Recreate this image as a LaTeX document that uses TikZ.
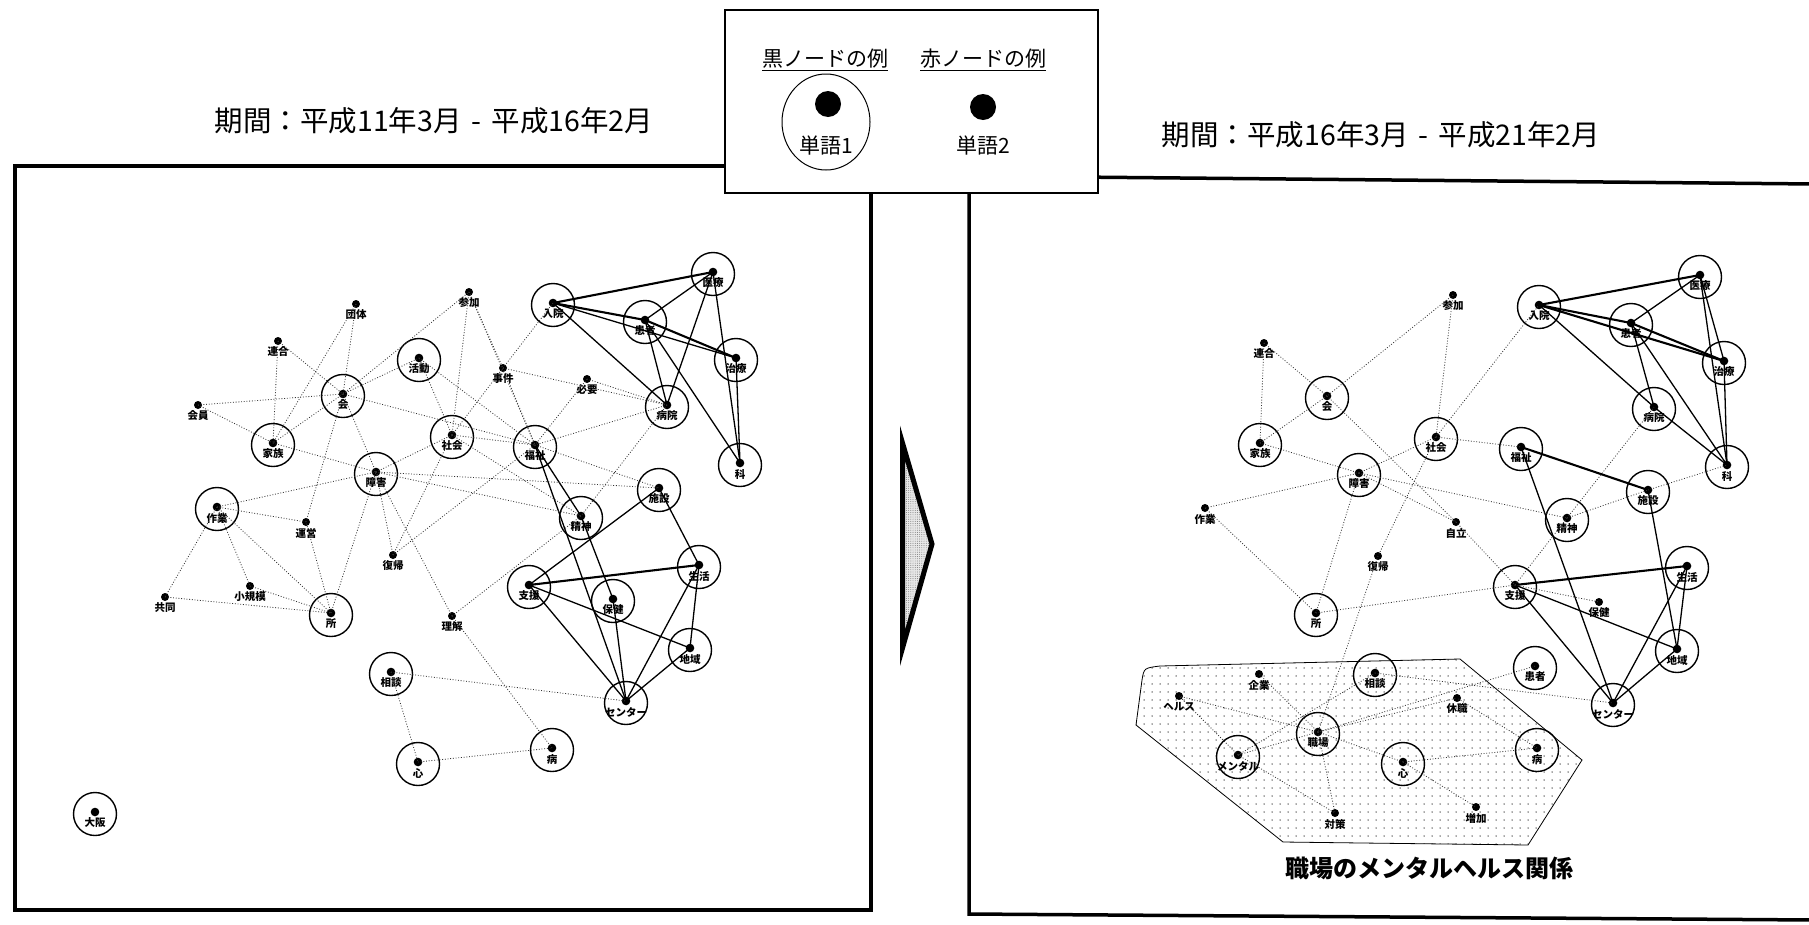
\documentclass[tikz,border=0pt]{standalone}
\usepackage{fontspec}
\newfontfamily\cjk{Noto Sans CJK JP}
\usetikzlibrary{patterns.meta,shapes.geometric}
\newcommand\BN[4]{%
  \coordinate (#1) at (#2,#3);
  \node[bigc] (#1c) at (#2,#3+2) {};
  \fill (#1) circle (4.3);
  \node[wlab] (#1l) at (#2,#3+11) {#4};}
\newcommand\RN[4]{%
  \coordinate (#1) at (#2,#3);
  \fill (#1) circle (4);
  \node[wlab] (#1l) at (#2,#3+11) {#4};}
\begin{document}
\begin{tikzpicture}[x=1pt,y=-1pt,
  bigc/.style={circle,draw,line width=1.4pt,minimum size=43pt,inner sep=0pt},
  wlab/.style={font=\cjk\bfseries\fontsize{10.5}{10.5}\selectfont,inner sep=0pt},
  dotedge/.style={line width=0.8pt,black!80,dash pattern=on 0.9pt off 1.8pt},
  soledge/.style={line width=1.3pt},
  thkedge/.style={line width=2.1pt},
  frame/.style={line width=3.5pt},
  ttl/.style={font=\cjk\fontsize{28.5}{28.5}\selectfont,inner sep=0pt},
  legt/.style={font=\cjk\fontsize{21}{21}\selectfont,inner sep=0pt}]
\useasboundingbox (0,0) rectangle (1809,924);
\fill[white] (0,0) rectangle (1809,924);
% titles
\node[ttl] (t1) at (434,121) {期間：平成11年3月\hspace{10pt}-\hspace{10pt}平成16年2月};
\node[ttl] (t2) at (1381,135) {期間：平成16年3月\hspace{10pt}-\hspace{10pt}平成21年2月};
% frames
\draw[frame] (15,166) rectangle (871,910);
\draw[frame] (1815,184) -- (969,176) -- (969,914) -- (1815,920);
% arrow
\draw[line width=5pt,line join=miter,preaction={fill=gray!18},
  pattern={Dots[distance=2.2pt,radius=0.45pt]},pattern color=black!60]
  (902.5,443) -- (932,544) -- (902.5,648) -- cycle;
% legend
\node[draw,fill=white,line width=1.2pt,minimum width=373pt,minimum height=183pt,inner sep=0pt] (leg) at (911.5,101.5) {};
\node[legt] (lh1) at (825,60) {\underline{黒ノードの例}};
\node[legt] (lh2) at (983,60) {\underline{赤ノードの例}};
\node[draw,ellipse,line width=1pt,minimum width=88pt,minimum height=96pt,inner sep=0pt] (lc) at (826,122) {};
\fill (828,104) circle (13);
\node[legt] (lw1) at (826,146) {単語1};
\fill (983,107) circle (13);
\node[legt] (lw2) at (983,146) {単語2};
% right region polygon
\draw[line width=0.8pt,pattern={Dots[distance=8pt,radius=0.75pt]},pattern color=black!70]
  (1160,666) -- (1460,659) -- (1582,760) -- (1528,845) -- (1362,843) -- (1283,842)
  -- (1136,725) -- (1142,680) .. controls (1144,668) .. (1160,666) -- cycle;
\node[font=\cjk\bfseries\fontsize{24}{24}\selectfont,inner sep=0pt] (cap) at (1429,868) {職場のメンタルヘルス関係};
% ---------- left nodes
\BN{Lnyuin}{553}{303}{入院}
\BN{Liryo}{713}{272}{医療}
\BN{Lkanja}{645}{320}{患者}
\BN{Lchiryo}{736}{358}{治療}
\BN{Lbyoin}{667}{405}{病院}
\BN{Lka}{740}{463}{科}
\BN{Lfukushi}{535}{445}{福祉}
\BN{Lshisetsu}{659}{488}{施設}
\BN{Lseishin}{581}{516}{精神}
\BN{Lshien}{529}{585}{支援}
\BN{Lseikatsu}{699}{565}{生活}
\BN{Lhoken}{613}{599}{保健}
\BN{Lchiiki}{690}{648}{地域}
\BN{Lcenter}{626}{701}{センター}
\BN{Lbyo}{552}{748}{病}
\BN{Lkokoro}{418}{762}{心}
\BN{Lsodan}{391}{672}{相談}
\BN{Losaka}{95}{812}{大阪}
\BN{Lsho}{331}{613}{所}
\BN{Lsagyo}{217}{507}{作業}
\BN{Lshogai}{376}{472}{障害}
\BN{Lkazoku}{273}{443}{家族}
\BN{Lkai}{343}{394}{会}
\BN{Lkatsudo}{419}{358}{活動}
\BN{Lshakai}{452}{435}{社会}
\RN{Ldantai}{356}{304}{団体}
\RN{Lrengo}{278}{341}{連合}
\RN{Lkaiin}{198}{405}{会員}
\RN{Lsanka}{469}{292}{参加}
\RN{Ljiken}{503}{368}{事件}
\RN{Lhitsuyo}{587}{379}{必要}
\RN{Lunei}{306}{522}{運営}
\RN{Lfukki}{393}{555}{復帰}
\RN{Lshokibo}{250}{586}{小規模}
\RN{Lkyodo}{165}{597}{共同}
\RN{Lrikai}{452}{616}{理解}
% ---------- right nodes
\BN{Rnyuin}{1539}{305}{入院}
\BN{Riryo}{1700}{275}{医療}
\BN{Rkanja}{1631}{323}{患者}
\BN{Rchiryo}{1724}{361}{治療}
\BN{Rbyoin}{1654}{407}{病院}
\BN{Rka}{1727}{465}{科}
\BN{Rfukushi}{1521}{447}{福祉}
\BN{Rshisetsu}{1648}{490}{施設}
\BN{Rseishin}{1567}{518}{精神}
\BN{Rshien}{1515}{585}{支援}
\BN{Rseikatsu}{1687}{566}{生活}
\BN{Rchiiki}{1677}{649}{地域}
\BN{Rcenter}{1613}{703}{センター}
\BN{Rxx}{1535}{666}{患者}
\BN{Rbyo}{1537}{748}{病}
\BN{Rkokoro}{1403}{762}{心}
\BN{Rshokuba}{1318}{732}{職場}
\BN{Rmental}{1238}{755}{メンタル}
\BN{Rsodan}{1375}{673}{相談}
\BN{Rsho}{1316}{613}{所}
\BN{Rshogai}{1359}{473}{障害}
\BN{Rkazoku}{1260}{443}{家族}
\BN{Rkai}{1327}{396}{会}
\BN{Rshakai}{1436}{437}{社会}
\RN{Rsanka}{1453}{295}{参加}
\RN{Rrengo}{1264}{343}{連合}
\RN{Rsagyo}{1205}{508}{作業}
\RN{Rjiritsu}{1456}{522}{自立}
\RN{Rfukki}{1378}{556}{復帰}
\RN{Rhoken}{1599}{602}{保健}
\RN{Rkigyo}{1259}{674}{企業}
\RN{Rhealth}{1179}{696}{ヘルス}
\RN{Rkyushoku}{1457}{698}{休職}
\RN{Rtaisaku}{1335}{813}{対策}
\RN{Rzoka}{1476}{807}{増加}
% ---------- left edges
\foreach \a/\b in {Lnyuin/Liryo,Lnyuin/Lkanja,Lkanja/Lchiryo,Lshien/Lseikatsu}
  \draw[thkedge] (\a) -- (\b);
\foreach \a/\b in {Lnyuin/Lchiryo,Lnyuin/Lbyoin,Lkanja/Liryo,Lkanja/Lbyoin,Lkanja/Lka,
  Liryo/Lbyoin,Liryo/Lka,Lchiryo/Lka,Lfukushi/Lcenter,Lfukushi/Lseishin,Lseishin/Lhoken,
  Lshisetsu/Lshien,Lshisetsu/Lseikatsu,Lshien/Lchiiki,Lshien/Lcenter,Lhoken/Lcenter,
  Lseikatsu/Lcenter,Lseikatsu/Lchiiki,Lchiiki/Lcenter}
  \draw[soledge] (\a) -- (\b);
\foreach \a/\b in {Ldantai/Lkai,Ldantai/Lkazoku,Lrengo/Lkai,Lrengo/Lkazoku,Lkaiin/Lkai,
  Lkaiin/Lkazoku,Lkai/Lkazoku,Lkai/Lkatsudo,Lkai/Lshogai,Lkai/Lfukushi,Lkai/Lunei,Lkai/Lsanka,
  Lkazoku/Lshogai,Lsagyo/Lshogai,Lsagyo/Lunei,Lsagyo/Lsho,Lsagyo/Lshokibo,Lsagyo/Lkyodo,
  Lkyodo/Lsho,Lshokibo/Lsho,Lsho/Lunei,Lsho/Lshogai,Lshogai/Lshakai,Lshogai/Lshisetsu,
  Lshogai/Lseishin,Lshogai/Lfukki,Lshogai/Lrikai,Lfukki/Lshakai,Lfukki/Lfukushi,
  Lshakai/Lkatsudo,Lshakai/Lsanka,Lshakai/Ljiken,Lshakai/Lfukushi,Lshakai/Lseishin,
  Lkatsudo/Lfukushi,Lsanka/Ljiken,Lsanka/Lfukushi,Ljiken/Lfukushi,Ljiken/Lbyoin,
  Lhitsuyo/Lbyoin,Lhitsuyo/Lfukushi,Lbyoin/Lfukushi,Lbyoin/Lseishin,Lfukushi/Lshisetsu,
  Lrikai/Lseishin,Lrikai/Lbyo,Lsodan/Lcenter,Lsodan/Lkokoro,Lkokoro/Lbyo,Lnyuin/Ljiken}
  \draw[dotedge] (\a) -- (\b);
% ---------- right edges
\foreach \a/\b in {Rnyuin/Riryo,Rnyuin/Rkanja,Rkanja/Rchiryo,Rnyuin/Rchiryo,
  Rfukushi/Rshisetsu,Rshien/Rseikatsu}
  \draw[thkedge] (\a) -- (\b);
\foreach \a/\b in {Rnyuin/Rbyoin,Rkanja/Riryo,Rkanja/Rbyoin,Rkanja/Rka,Riryo/Rchiryo,
  Riryo/Rka,Rchiryo/Rka,Rbyoin/Rka,Rfukushi/Rcenter,Rshisetsu/Rchiiki,Rshien/Rchiiki,
  Rshien/Rcenter,Rseikatsu/Rcenter,Rseikatsu/Rchiiki,Rchiiki/Rcenter}
  \draw[soledge] (\a) -- (\b);
\foreach \a/\b in {Rsanka/Rkai,Rsanka/Rshakai,Rrengo/Rkai,Rrengo/Rkazoku,Rkai/Rkazoku,
  Rkai/Rjiritsu,Rkazoku/Rshogai,Rshogai/Rshakai,Rshogai/Rsagyo,Rshogai/Rsho,
  Rshogai/Rseishin,Rshogai/Rjiritsu,Rjiritsu/Rshien,Rshakai/Rfukki,Rshakai/Rnyuin,
  Rshakai/Rfukushi,Rsagyo/Rsho,Rsho/Rshien,Rfukki/Rshokuba,Rseishin/Rbyoin,
  Rseishin/Rshisetsu,Rshisetsu/Rka,Rseishin/Rshien,Rsodan/Rcenter,Rshokuba/Rkyushoku,
  Rshokuba/Rmental,Rshokuba/Rkigyo,Rshokuba/Rhealth,Rshokuba/Rkokoro,Rshokuba/Rtaisaku,
  Rmental/Rhealth,Rmental/Rtaisaku,Rmental/Rsodan,Rkokoro/Rbyo,Rkokoro/Rzoka,
  Rbyo/Rkyushoku,Rxx/Rshokuba,Rshien/Rhoken}
  \draw[dotedge] (\a) -- (\b);
\end{tikzpicture}
\end{document}
